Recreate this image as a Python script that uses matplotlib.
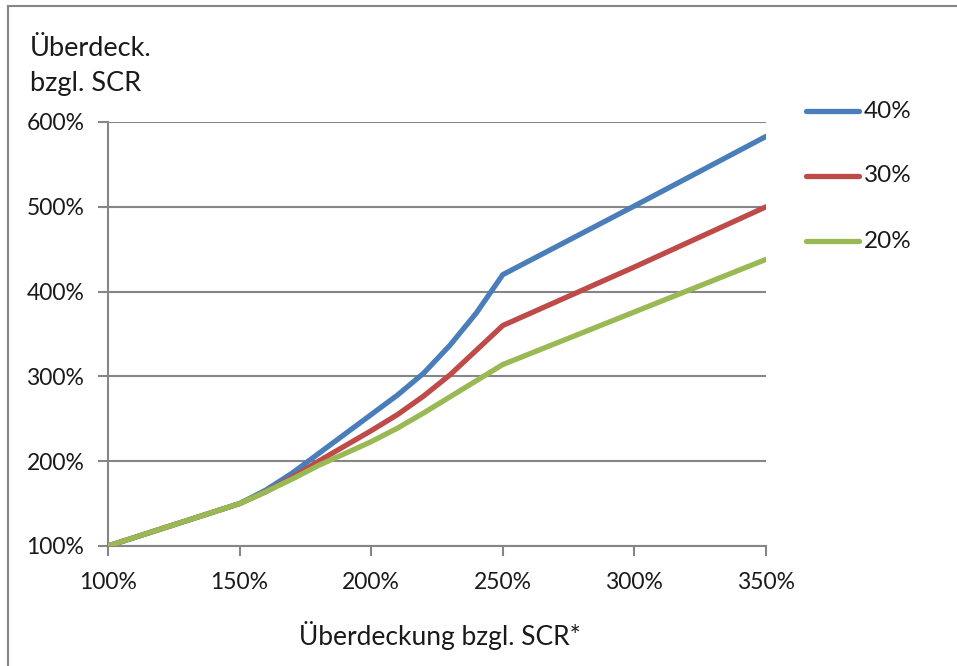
import matplotlib
matplotlib.use("Agg")
import matplotlib.pyplot as plt
from matplotlib.lines import Line2D

x_vals = [100, 150, 160, 170, 180, 190, 200, 210, 220, 230, 240, 250, 300, 350]
s40 = [100, 150, 166, 186, 209, 232, 255, 278, 304, 337, 375, 420, 501, 583]
s30 = [100, 150, 164, 181, 200, 218, 236, 255, 277, 302, 331, 360, 429, 500]
s20 = [100, 150, 164, 179, 195, 209, 223, 239, 257, 276, 295, 314, 376, 438]
series_labels = ["40%", "30%", "20%"]
colors = ["#4A7EBB", "#BE4B48", "#98B954"]

x_ticks = [100, 150, 200, 250, 300, 350]
y_ticks = [100, 200, 300, 400, 500, 600]

plt.rcParams['font.family'] = ['Lato', 'DejaVu Sans']

fig = plt.figure(figsize=(9.57, 6.66), dpi=100)
ax = fig.add_axes([108/957, 1-546/666, (766-108)/957, (546-122)/666])

for ys, c in zip([s40, s30, s20], colors):
    ax.plot(x_vals, ys, color=c, lw=3.8, solid_capstyle='round', solid_joinstyle='round', zorder=3)

ax.set_xlim(100, 350)
ax.set_ylim(100, 600)
ax.set_xticks(x_ticks)
ax.set_yticks(y_ticks)
ax.set_xticklabels([f"{v}%" for v in x_ticks])
ax.set_yticklabels([f"{v}%" for v in y_ticks])
ax.grid(axis='y', color='#868686', lw=1.5, zorder=1)
for s in ['top', 'right']:
    ax.spines[s].set_visible(False)
for s in ['left', 'bottom']:
    ax.spines[s].set_color('#868686')
    ax.spines[s].set_linewidth(1.5)
ax.tick_params(axis='both', colors='#868686', length=7, width=1.5, labelsize=16.5, labelcolor='#1a1a1a')
ax.tick_params(axis='x', pad=12)
ax.tick_params(axis='y', pad=10)

fig.text(30/957, 1-48/666, "Überdeck.", fontsize=19.5, va='center', ha='left', color='#1a1a1a')
fig.text(30/957, 1-84/666, "bzgl. SCR", fontsize=19.5, va='center', ha='left', color='#1a1a1a')
fig.text(440/957, 1-636/666, "Überdeckung bzgl. SCR*", fontsize=19, va='center', ha='center', color='#1a1a1a')

for i, (h, lab) in enumerate(zip(colors, series_labels)):
    yy = 1 - (111 + 65*i)/666
    fig.add_artist(Line2D([806/957, 859/957], [yy, yy], color=h, lw=3.8, solid_capstyle='round', transform=fig.transFigure))
    fig.text(864/957, yy, lab, fontsize=17.5, va='center', ha='left', color='#1a1a1a')

# chart frame (left and top edges visible)
fig.add_artist(Line2D([8/957, 8/957], [0, 1-6/666], color='#868686', lw=1.5, transform=fig.transFigure))
fig.add_artist(Line2D([8/957, 1], [1-6/666, 1-6/666], color='#868686', lw=1.5, transform=fig.transFigure))

fig.savefig("out.png", dpi=100)
